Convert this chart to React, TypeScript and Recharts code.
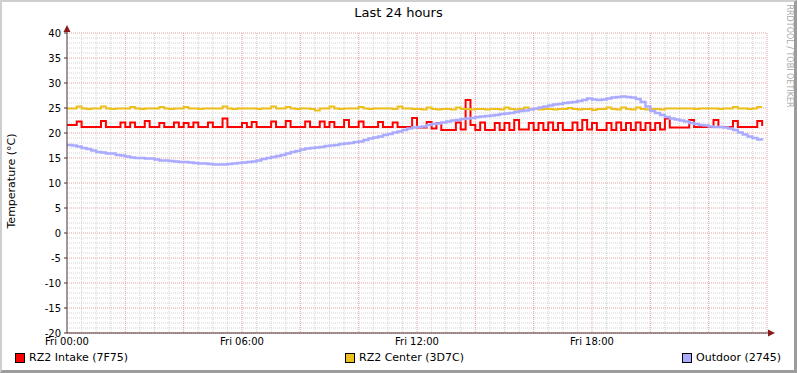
import React from 'react';
import { LineChart, Line, XAxis, YAxis, CartesianGrid, ReferenceDot } from 'recharts';

// sample spacing in minutes (one sample every 10 minutes over 24 hours)
const STEP_MIN = 10;

const intake = [
  21.6, 21.6, 22.3, 21.2, 21.2, 21.2, 21.2, 22.4, 21.2, 21.2,
  21.2, 22.1, 21.2, 22.1, 21.2, 21.2, 22.4, 21.2, 21.2, 22.0,
  21.2, 21.2, 22.1, 21.2, 22.0, 21.2, 22.1, 21.2, 21.2, 22.1,
  21.2, 21.2, 22.9, 21.2, 21.2, 21.2, 22.0, 21.2, 22.2, 21.2,
  21.2, 21.2, 22.3, 21.2, 21.2, 22.4, 21.2, 21.2, 21.2, 22.3,
  21.2, 21.2, 22.3, 21.2, 22.2, 21.2, 21.2, 22.6, 21.2, 21.2,
  22.3, 21.2, 21.2, 21.2, 22.2, 21.2, 21.2, 22.1, 21.2, 21.2,
  21.2, 23.0, 21.1, 21.1, 22.2, 20.9, 22.0, 20.6, 20.6, 20.6,
  22.1, 20.7, 26.6, 21.6, 20.6, 22.1, 20.6, 20.6, 22.0, 20.6,
  22.0, 20.6, 22.6, 20.7, 20.7, 22.0, 20.6, 22.0, 20.6, 22.1,
  20.6, 22.0, 20.6, 20.6, 22.1, 20.6, 22.6, 20.7, 22.0, 20.6,
  20.6, 22.0, 20.6, 22.1, 20.6, 22.0, 20.6, 22.1, 20.6, 22.0,
  20.6, 22.0, 20.7, 22.9, 21.1, 21.1, 21.1, 21.1, 22.6, 21.2,
  21.2, 21.2, 21.2, 22.6, 21.2, 21.2, 21.2, 22.4, 21.2, 21.2,
  21.2, 21.2, 22.4, 21.4,
];

const center = [
  24.9, 24.9, 25.3, 24.9, 24.8, 24.9, 24.9, 25.3, 24.9, 24.8,
  24.9, 24.9, 24.9, 25.2, 24.9, 24.8, 24.9, 24.9, 24.9, 25.2,
  24.9, 24.8, 24.9, 24.9, 25.2, 24.9, 24.9, 24.8, 24.9, 24.9,
  24.9, 24.9, 25.3, 24.9, 24.8, 24.9, 24.9, 24.9, 24.9, 24.8,
  24.9, 24.9, 25.3, 24.9, 24.9, 25.2, 24.9, 24.8, 24.9, 24.9,
  24.8, 24.5, 24.9, 24.9, 25.3, 24.9, 24.8, 24.9, 24.9, 24.9,
  25.2, 24.9, 24.8, 24.9, 24.9, 24.9, 24.9, 24.8, 25.3, 24.9,
  24.9, 24.8, 24.8, 24.7, 25.1, 24.8, 24.7, 24.8, 24.8, 24.7,
  25.1, 24.8, 24.8, 24.7, 24.8, 24.8, 24.7, 24.8, 24.8, 24.7,
  25.1, 24.8, 24.7, 24.8, 25.1, 24.8, 24.8, 24.7, 24.8, 24.8,
  24.7, 24.8, 24.8, 25.0, 24.8, 24.7, 24.8, 24.8, 24.6, 24.8,
  24.8, 25.1, 24.8, 24.7, 25.1, 24.8, 24.7, 25.1, 24.8, 24.7,
  24.8, 24.8, 24.7, 24.9, 24.9, 24.9, 24.9, 24.9, 24.9, 24.8,
  24.9, 24.9, 24.9, 24.9, 24.8, 24.9, 24.9, 25.2, 24.9, 24.9,
  24.8, 24.9, 25.2, 25.2,
];

const outdoor = [
  17.6, 17.5, 17.3, 17.0, 16.8, 16.5, 16.2, 16.1, 15.9, 15.9,
  15.6, 15.5, 15.3, 15.1, 15.0, 15.0, 14.9, 14.9, 14.7, 14.5,
  14.5, 14.4, 14.3, 14.2, 14.2, 14.1, 14.0, 13.9, 13.9, 13.8,
  13.7, 13.7, 13.7, 13.8, 13.9, 14.0, 14.1, 14.2, 14.3, 14.5,
  14.8, 15.0, 15.2, 15.4, 15.6, 15.9, 16.2, 16.4, 16.7, 16.9,
  17.0, 17.1, 17.2, 17.4, 17.5, 17.6, 17.8, 17.9, 18.0, 18.2,
  18.3, 18.6, 18.9, 19.1, 19.3, 19.6, 19.8, 20.1, 20.3, 20.6,
  20.9, 21.1, 21.2, 21.3, 21.6, 21.8, 21.9, 22.1, 22.3, 22.5,
  22.6, 22.8, 22.9, 23.0, 23.2, 23.3, 23.4, 23.5, 23.6, 23.8,
  23.9, 24.0, 24.2, 24.4, 24.5, 24.7, 24.9, 25.1, 25.3, 25.5,
  25.7, 25.8, 26.0, 26.1, 26.2, 26.4, 26.6, 26.9, 26.7, 26.6,
  26.7, 26.9, 27.1, 27.2, 27.3, 27.2, 27.1, 26.8, 26.2, 25.3,
  24.4, 24.0, 23.6, 23.2, 22.9, 22.7, 22.5, 22.3, 22.0, 21.8,
  21.6, 21.5, 21.3, 21.2, 21.2, 21.1, 20.9, 20.6, 20.1, 19.7,
  19.3, 19.0, 18.7, 18.5,
];

const xTickMinutes = [0, 360, 720, 1080];
const xTickLabels = ['Fri 00:00', 'Fri 06:00', 'Fri 12:00', 'Fri 18:00'];
const yTicks = [-20, -15, -10, -5, 0, 5, 10, 15, 20, 25, 30, 35, 40];

const seriesNames = ['RZ2 Intake (7F75)', 'RZ2 Center (3D7C)', 'Outdoor (2745)'];
const seriesColors = ['#FF0000', '#ECC11E', '#AAAAFF'];

const chartTitle = 'Last 24 hours';
const yAxisTitle = 'Temperature (°C)';
const watermark = 'RRDTOOL / TOBI OETIKER';

// grid values (minor: every 1°C / 30 min, major: every 5°C / 2 h)
const yMinor: number[] = [];
for (let v = -20; v <= 40; v += 1) if (v % 5 !== 0) yMinor.push(v);
const xMinor: number[] = [];
for (let m = 0; m <= 1440; m += 30) if (m % 120 !== 0) xMinor.push(m);
const xMajor: number[] = [];
for (let m = 120; m <= 1440; m += 120) xMajor.push(m);

const data = intake.map((v, i) => ({
  t: i * STEP_MIN,
  intake: v,
  center: center[i],
  outdoor: outdoor[i],
}));

const FONT = '"DejaVu Sans", "Liberation Sans", sans-serif';
const AXIS = '#4a3030';
const ARROW = '#8B1A1A';

const UpArrow = (props: any) => {
  const { cx, cy } = props;
  return (
    <g>
      <line x1={cx} y1={cy} x2={cx} y2={cy - 3} stroke={AXIS} strokeWidth={1} />
      <polygon points={`${cx - 3.5},${cy - 1} ${cx + 3.5},${cy - 1} ${cx},${cy - 8}`} fill={ARROW} />
    </g>
  );
};

const RightArrow = (props: any) => {
  const { cx, cy } = props;
  return (
    <g>
      <line x1={cx} y1={cy} x2={cx + 4} y2={cy} stroke={AXIS} strokeWidth={1} />
      <polygon points={`${cx + 1},${cy - 3.5} ${cx + 1},${cy + 3.5} ${cx + 8},${cy}`} fill={ARROW} />
    </g>
  );
};

const legendX = [15, 345, 682];

export default function App() {
  return (
    <div
      style={{
        position: 'absolute',
        left: 0,
        top: 0,
        width: 797,
        height: 373,
        background: '#ffffff',
        fontFamily: FONT,
        overflow: 'hidden',
      }}
    >
      <LineChart
        width={797}
        height={373}
        data={data}
        margin={{ top: 33, right: 30, bottom: 0, left: 7 }}
      >
        <CartesianGrid
          stroke="#D2D2D2"
          strokeDasharray="1 1"
          horizontalValues={yMinor}
          verticalValues={xMinor}
          fill="none"
        />
        <CartesianGrid
          stroke="#E6A0A0"
          strokeDasharray="1 1"
          horizontalValues={yTicks}
          verticalValues={xMajor}
          fill="none"
        />
        <XAxis
          dataKey="t"
          type="number"
          domain={[0, 1440]}
          ticks={xTickMinutes}
          tickFormatter={(v: number) => xTickLabels[xTickMinutes.indexOf(v)]}
          height={40}
          tickSize={0}
          tickMargin={5}
          axisLine={{ stroke: AXIS, strokeWidth: 1 }}
          tickLine={false}
          tick={{ fill: '#000', fontSize: 10, fontFamily: FONT }}
          interval={0}
        />
        <YAxis
          type="number"
          domain={[-20, 40]}
          ticks={yTicks}
          width={60}
          tickSize={3}
          tickMargin={3}
          axisLine={{ stroke: AXIS, strokeWidth: 1 }}
          tickLine={{ stroke: AXIS }}
          tick={{ fill: '#000', fontSize: 10, fontFamily: FONT }}
          interval={0}
          allowDecimals={false}
        />
        <Line
          dataKey="intake"
          type="stepAfter"
          stroke={seriesColors[0]}
          strokeWidth={2}
          dot={false}
          activeDot={false}
          isAnimationActive={false}
        />
        <Line
          dataKey="center"
          type="stepAfter"
          stroke={seriesColors[1]}
          strokeWidth={2}
          dot={false}
          activeDot={false}
          isAnimationActive={false}
        />
        <Line
          dataKey="outdoor"
          type="stepAfter"
          stroke={seriesColors[2]}
          strokeWidth={2.4}
          dot={false}
          activeDot={false}
          isAnimationActive={false}
        />
        <ReferenceDot x={0} y={40} ifOverflow="visible" shape={UpArrow} />
        <ReferenceDot x={1440} y={-20} ifOverflow="visible" shape={RightArrow} />
      </LineChart>

      {/* title */}
      <div
        style={{
          position: 'absolute',
          left: 0,
          top: 5,
          width: 797,
          textAlign: 'center',
          fontSize: 13,
          lineHeight: '15px',
          color: '#000',
        }}
      >
        {chartTitle}
      </div>

      {/* y axis title */}
      <div
        style={{
          position: 'absolute',
          left: 12 - 100,
          top: 181 - 7,
          width: 200,
          height: 14,
          lineHeight: '14px',
          textAlign: 'center',
          fontSize: 11,
          color: '#000',
          transform: 'rotate(-90deg)',
          transformOrigin: '50% 50%',
          whiteSpace: 'nowrap',
        }}
      >
        {yAxisTitle}
      </div>

      {/* watermark */}
      <div
        style={{
          position: 'absolute',
          left: 789 - 60,
          top: 56 - 5,
          width: 120,
          height: 10,
          lineHeight: '10px',
          textAlign: 'center',
          fontSize: 8,
          color: '#a8a8a8',
          transform: 'rotate(90deg)',
          transformOrigin: '50% 50%',
          whiteSpace: 'nowrap',
        }}
      >
        {watermark}
      </div>

      {/* legend */}
      {seriesNames.map((name, i) => (
        <div
          key={name}
          style={{
            position: 'absolute',
            left: legendX[i],
            top: 351,
            height: 14,
            display: 'flex',
            alignItems: 'center',
            whiteSpace: 'nowrap',
          }}
        >
          <span
            style={{
              display: 'inline-block',
              width: 8,
              height: 8,
              background: seriesColors[i],
              border: '1px solid #000',
              marginRight: 4,
            }}
          />
          <span style={{ fontSize: 11, lineHeight: '14px', color: '#000' }}>{name}</span>
        </div>
      ))}

      {/* frame */}
      <div
        style={{
          position: 'absolute',
          left: 0,
          top: 0,
          width: 797,
          height: 373,
          boxSizing: 'border-box',
          borderTop: '2px solid #cfcfcf',
          borderLeft: '2px solid #cfcfcf',
          borderRight: '3px solid #9c9c9c',
          borderBottom: '3px solid #9c9c9c',
          pointerEvents: 'none',
        }}
      />
    </div>
  );
}
